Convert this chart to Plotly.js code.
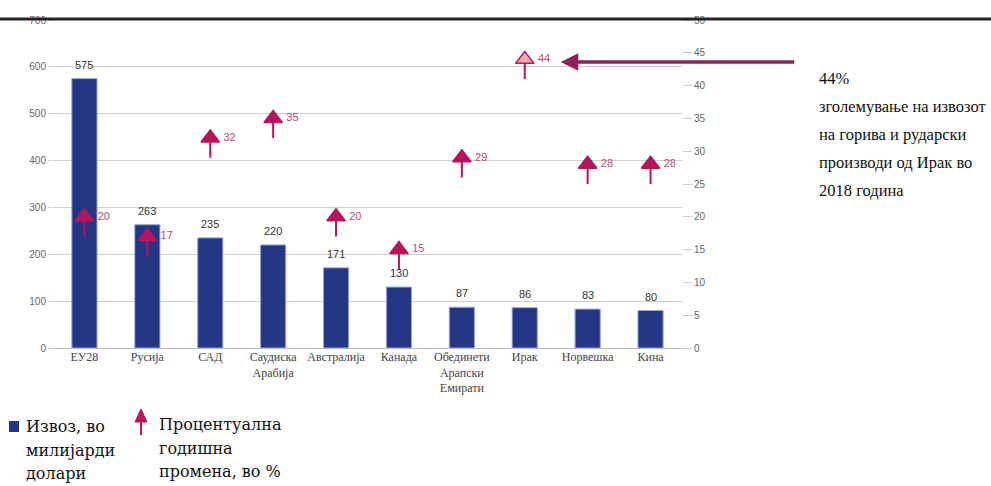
<!DOCTYPE html>
<html>
<head>
<meta charset="utf-8">
<script src="https://cdn.plot.ly/plotly-3.0.1.min.js"></script>
<style>html,body{margin:0;padding:0;background:#fff;}#chart{width:991px;height:486px;}</style>
</head>
<body>
<div id="chart"></div>
<script>
// ---- data ----
const categories = ['ЕУ28','Русија','САД','Саудиска Арабија','Австралија','Канада','Обединети Арапски Емирати','Ирак','Норвешка','Кина'];
const tickLabels = ['ЕУ28','Русија','САД','Саудиска<br>Арабија','Австралија','Канада','Обединети<br>Арапски<br>Емирати','Ирак','Норвешка','Кина'];
const exportsBn = [575, 263, 235, 220, 171, 130, 87, 86, 83, 80];
const changePct = [20, 17, 32, 35, 20, 15, 29, 44, 28, 28];
const leftTicks = [0,100,200,300,400,500,600,700];
const rightTicks = [0,5,10,15,20,25,30,35,40,45,50];
const highlight = 'Ирак';

// ---- layout helpers (pixel -> paper) ----
const L = 53, R = 682, T = 20, B = 348;
const px = x => (x - L) / (R - L);
const py = y => (B - y) / (B - T);

const magenta = '#b8155a';
const navy = '#233786';

const bars = {
  type: 'bar', x: categories, y: exportsBn,
  marker: {color: navy, line: {color: '#9aa7d2', width: 1}},
  width: 0.4, hoverinfo: 'x+y', showlegend: false
};
const arrows = {
  type: 'scatter', mode: 'markers+text', x: categories, y: changePct, yaxis: 'y2',
  text: changePct.map(v => '\u2009' + v), textposition: 'middle right',
  textfont: {family: 'Liberation Sans, Arial', size: 11, color: '#c4467a'},
  marker: {symbol: 'triangle-up', size: 16,
    color: categories.map(c => c === highlight ? '#f5a7ab' : magenta),
    line: {color: magenta, width: 1.5}},
  error_y: {type: 'constant', symmetric: false, value: 0, valueminus: 3, color: magenta, thickness: 2, width: 0},
  cliponaxis: false, showlegend: false
};

const annotations = [];
categories.forEach((c, i) => {
  annotations.push({x: c, y: exportsBn[i], xref: 'x', yref: 'y', text: String(exportsBn[i]),
    showarrow: false, yanchor: 'bottom', yshift: 6,
    font: {family: 'Liberation Sans, Arial', size: 11, color: '#333'}});
});
// arrow pointing to Iraq
annotations.push({x: highlight, y: 43.6, xref: 'x', yref: 'y2', text: '', showarrow: true,
  ax: 271, ay: 0, axref: 'pixel', ayref: 'pixel', standoff: 36,
  arrowhead: 2, arrowsize: 1, arrowwidth: 3.5, arrowcolor: '#8d2155'});

const noteLines = ['44%','зголемување на извозот','на горива и рударски','производи од Ирак во','2018 година'];
const noteY = [78, 106, 134, 162, 190];
noteLines.forEach((t, i) => annotations.push({xref: 'paper', yref: 'paper', x: px(817), y: py(noteY[i]),
  xanchor: 'left', yanchor: 'middle', text: t, showarrow: false,
  font: {family: 'Liberation Serif, serif', size: 16.5, color: '#111'}}));

const leg1 = ['Извоз, во','милијарди','долари'];
const leg2 = ['Процентуална','годишна','промена, во %'];
const legY = [426, 450, 473];
leg1.forEach((t, i) => annotations.push({xref: 'paper', yref: 'paper', x: px(24), y: py(legY[i]),
  xanchor: 'left', yanchor: 'middle', text: t, showarrow: false,
  font: {family: 'DejaVu Serif, serif', size: 16, color: '#111'}}));
leg2.forEach((t, i) => annotations.push({xref: 'paper', yref: 'paper', x: px(157), y: py(legY[i] - 2),
  xanchor: 'left', yanchor: 'middle', text: t, showarrow: false,
  font: {family: 'DejaVu Serif, serif', size: 16, color: '#111'}}));

const shapes = [
  {type: 'line', xref: 'paper', yref: 'paper', x0: px(0), x1: px(991), y0: py(19), y1: py(19),
    line: {color: '#222', width: 3}},
  {type: 'rect', xref: 'paper', yref: 'paper', x0: px(9), x1: px(19), y0: py(432), y1: py(421),
    fillcolor: navy, line: {width: 0}},
  {type: 'path', xref: 'paper', yref: 'paper',
    path: `M${px(141)},${py(409)} L${px(135)},${py(422)} L${px(147)},${py(422)} Z`,
    fillcolor: magenta, line: {color: magenta, width: 1}},
  {type: 'line', xref: 'paper', yref: 'paper', x0: px(141), x1: px(141), y0: py(420), y1: py(435),
    line: {color: magenta, width: 2}}
];

const layout = {
  width: 991, height: 486,
  margin: {l: L, r: 991 - R, t: T, b: 486 - B},
  paper_bgcolor: '#fff', plot_bgcolor: '#fff',
  xaxis: {type: 'category', tickvals: categories, ticktext: tickLabels, range: [-0.5, 9.5],
    showgrid: false, showline: false, ticks: '', zeroline: false,
    tickfont: {family: 'Liberation Serif, serif', size: 12, color: '#444'}},
  yaxis: {range: [0, 700], tickvals: leftTicks, showgrid: true, gridcolor: '#cfcfcf', gridwidth: 1,
    zeroline: true, zerolinecolor: '#bbb', ticks: 'outside', ticklen: 4, tickcolor: '#ccc',
    tickfont: {family: 'Liberation Sans, Arial', size: 10, color: '#666'}, fixedrange: true},
  yaxis2: {range: [0, 50], tickvals: rightTicks, overlaying: 'y', side: 'right', showgrid: false,
    zeroline: false, ticks: 'outside', ticklen: 9, tickcolor: '#ccc',
    tickfont: {family: 'Liberation Sans, Arial', size: 10, color: '#666'}},
  annotations: annotations, shapes: shapes, showlegend: false
};

Plotly.newPlot('chart', [bars, arrows], layout, {displayModeBar: false, staticPlot: true});
</script>
</body>
</html>
